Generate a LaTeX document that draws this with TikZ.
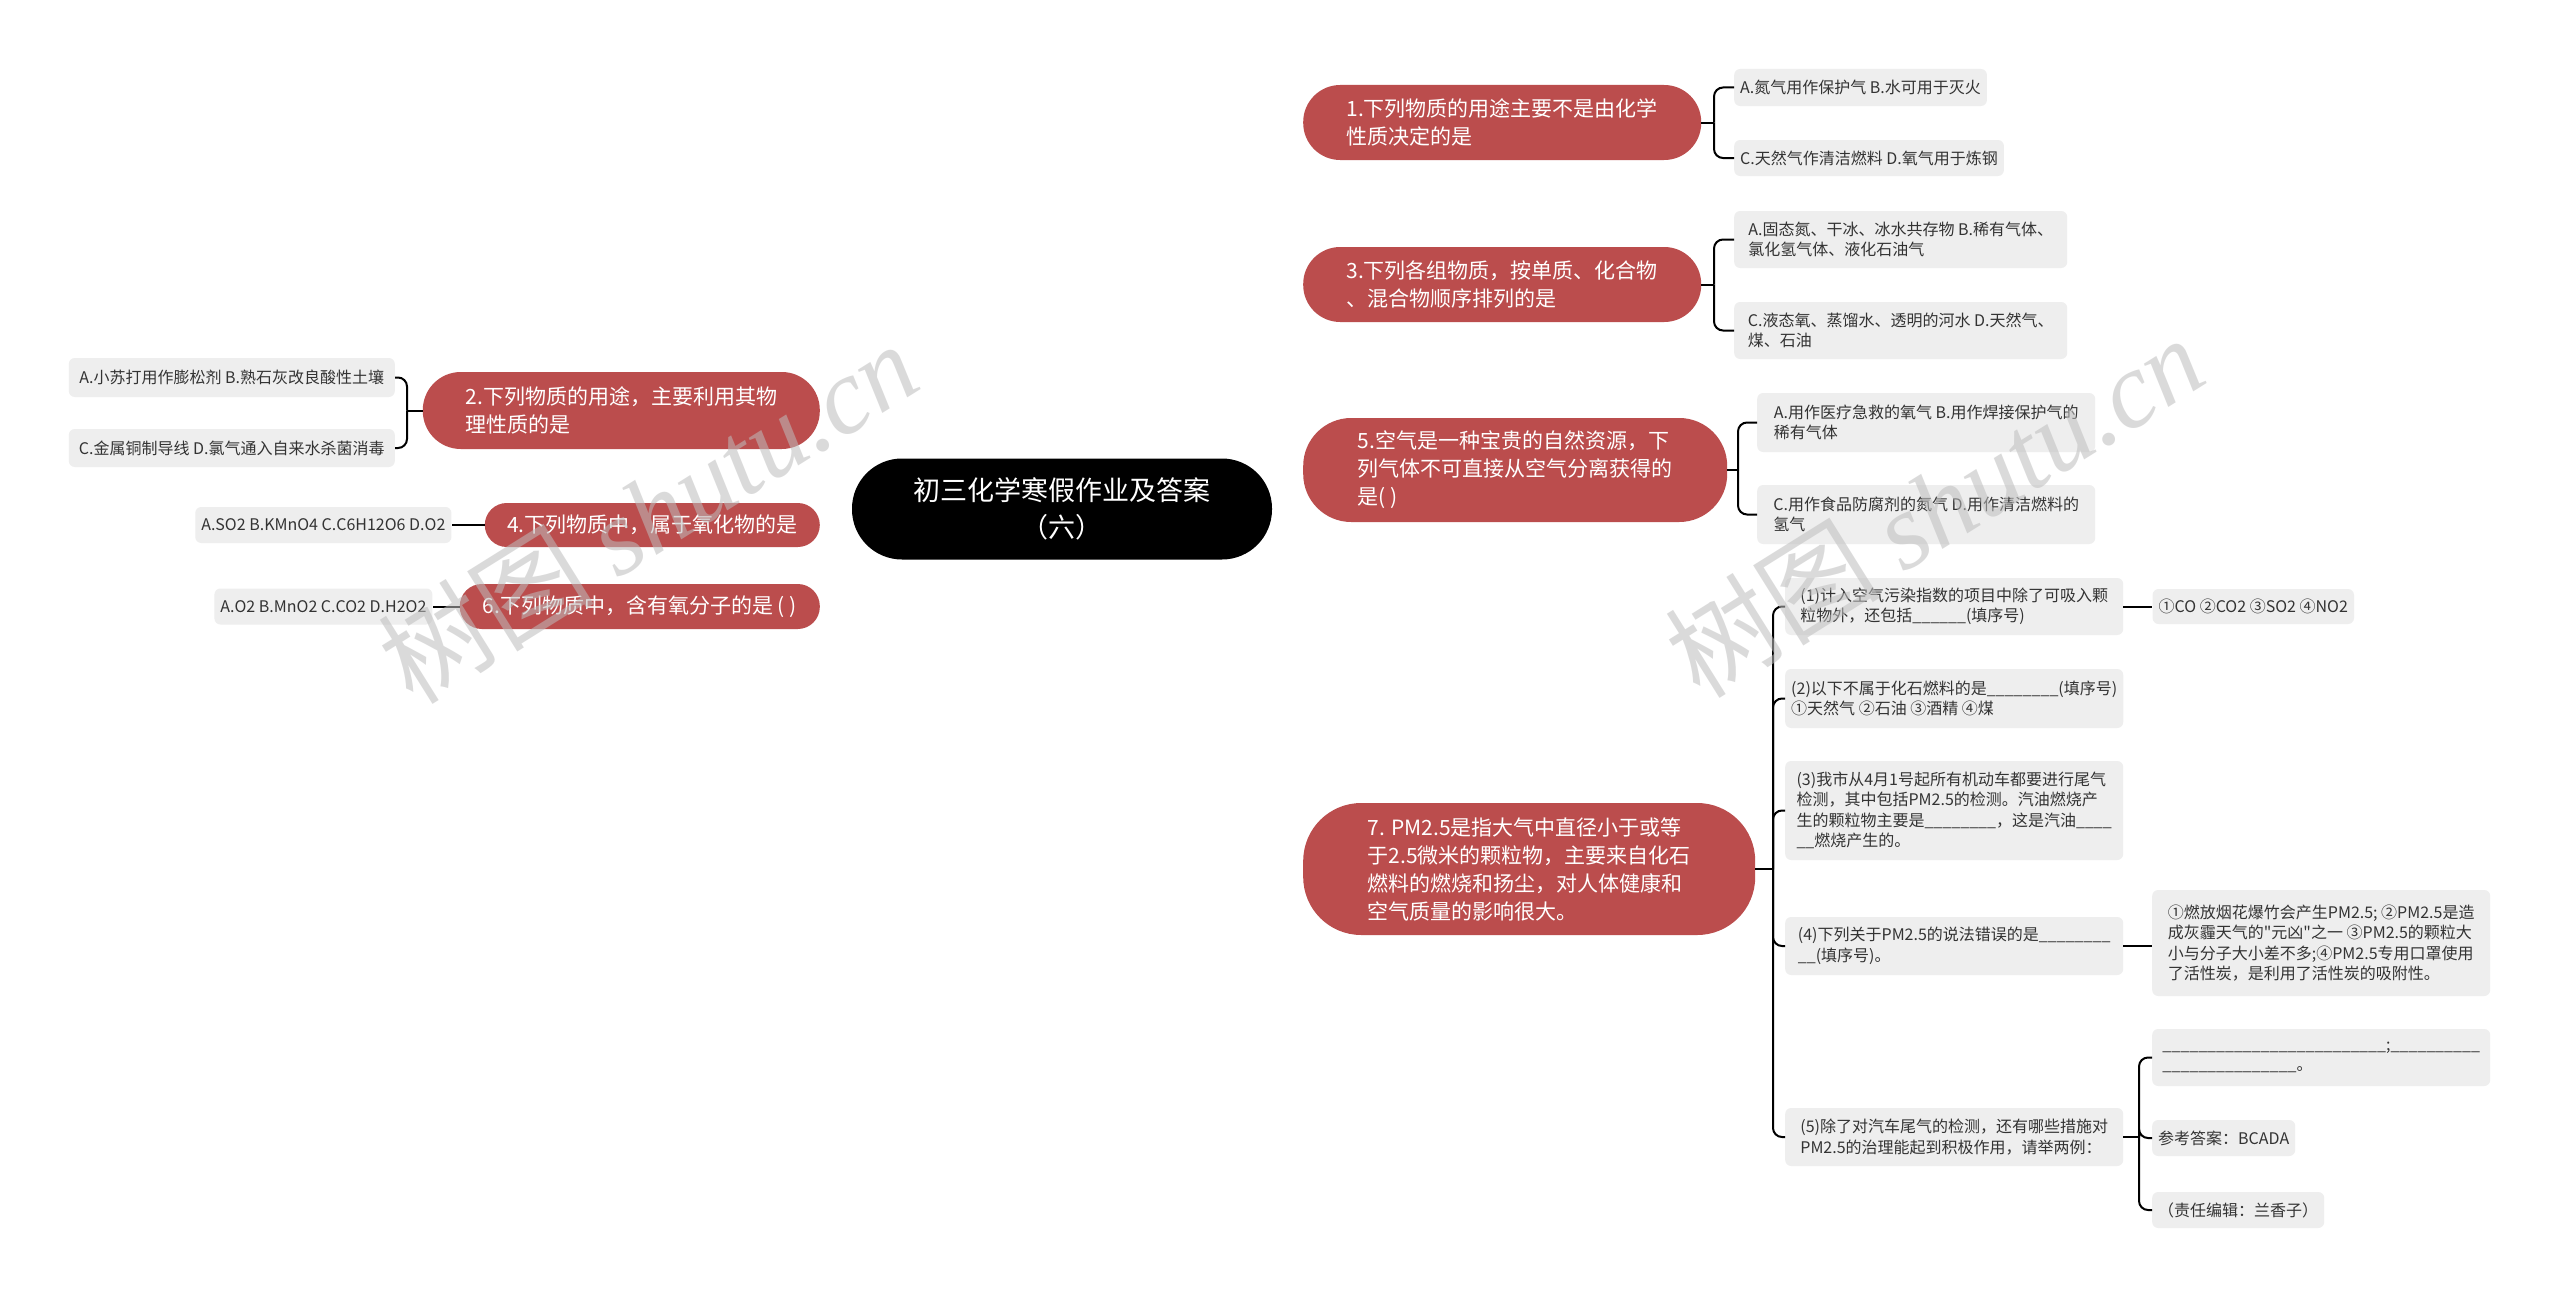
\documentclass[tikz,border=0pt]{standalone}
\usepackage{fontspec}
\setmainfont{Noto Sans CJK SC}
\newfontfamily\wmfont{Liberation Serif}
\usepackage{xcolor}
\usetikzlibrary{positioning,backgrounds}

\definecolor{qred}{HTML}{BB4D4D}
\definecolor{leafgray}{HTML}{EEEEEE}
\definecolor{leaftext}{HTML}{333333}
\definecolor{wmgray}{HTML}{BDBDBD}

\begin{document}
\begin{tikzpicture}[
  x=1pt, y=-1pt,
  rootnode/.style={fill=black, text=white, rounded corners=50pt, minimum width=420pt,
    minimum height=101pt, align=center, inner sep=0pt, font=\fontsize{27}{37}\selectfont},
  topic/.style={fill=qred, text=white, align=left, inner sep=0pt,
    font=\fontsize{21}{28}\selectfont},
  leaf/.style={fill=leafgray, text=leaftext, align=left, rounded corners=6pt,
    inner xsep=6pt, inner ysep=0pt, font=\fontsize{16}{20.5}\selectfont},
  conn/.style={draw=black, line width=2pt},
  brace/.style={conn, rounded corners=9pt},
  wmark/.style={text=wmgray, text opacity=0.55, font=\fontsize{108}{108}\selectfont},
]
\useasboundingbox (0,0) rectangle (2560,1298);
\fill[white] (0,0) rectangle (2560,1298);

% ===== root =====
\node[rootnode] (root) at (1062,509) {初三化学寒假作业及答案\\（六）};

% ===== right topics =====
\node[topic, anchor=west, minimum width=398pt, minimum height=75pt, rounded corners=37pt]
  (q1) at (1303,122.5) {1.下列物质的用途主要不是由化学\\性质决定的是};
\node[topic, anchor=west, minimum width=398pt, minimum height=75pt, rounded corners=37pt]
  (q3) at (1303,284.5) {3.下列各组物质，按单质、化合物\\、混合物顺序排列的是};
\node[topic, anchor=west, minimum width=424pt, minimum height=104pt, rounded corners=48pt]
  (q5) at (1303,470) {5.空气是一种宝贵的自然资源，下\\列气体不可直接从空气分离获得的\\是( )};
\node[topic, anchor=west, minimum width=452pt, minimum height=132pt, rounded corners=58pt]
  (q7) at (1303,869) {7. PM2.5是指大气中直径小于或等\\于2.5微米的颗粒物，主要来自化石\\燃料的燃烧和扬尘，对人体健康和\\空气质量的影响很大。};

% ===== left topics =====
\node[topic, anchor=east, minimum width=397pt, minimum height=77pt, rounded corners=38pt]
  (q2) at (820,410.5) {2.下列物质的用途，主要利用其物\\理性质的是};
\node[topic, anchor=east, minimum width=335pt, minimum height=44pt, rounded corners=22pt]
  (q4) at (820,525) {4.下列物质中，属于氧化物的是};
\node[topic, anchor=east, minimum width=360pt, minimum height=45pt, rounded corners=22pt]
  (q6) at (820,606.5) {6.下列物质中，含有氧分子的是 ( )};

% ===== leaves of 1, 3, 5 =====
\node[leaf, anchor=west, minimum height=37pt] (a1) at (1734,87.5) {A.氮气用作保护气 B.水可用于灭火};
\node[leaf, anchor=west, minimum height=36pt] (b1) at (1734,158) {C.天然气作清洁燃料 D.氧气用于炼钢};
\node[leaf, anchor=west, minimum width=333pt, minimum height=57pt] (a3) at (1734,239.5)
  {A.固态氮、干冰、冰水共存物 B.稀有气体、\\氯化氢气体、液化石油气};
\node[leaf, anchor=west, minimum width=333pt, minimum height=57pt] (b3) at (1734,330.5)
  {C.液态氧、蒸馏水、透明的河水 D.天然气、\\煤、石油};
\node[leaf, anchor=west, minimum width=338pt, minimum height=59pt] (a5) at (1757,422.5)
  {A.用作医疗急救的氧气 B.用作焊接保护气的\\稀有气体};
\node[leaf, anchor=west, minimum width=338pt, minimum height=59pt] (b5) at (1757,514.5)
  {C.用作食品防腐剂的氮气 D.用作清洁燃料的\\氢气};

% ===== sub-questions of 7 =====
\node[leaf, anchor=west, minimum width=338pt, minimum height=57pt] (s1) at (1785,606.5)
  {(1)计入空气污染指数的项目中除了可吸入颗\\粒物外，还包括\_\_\_\_\_\_(填序号)};
\node[leaf, right=29pt of s1, minimum height=35pt] (s1c) {①CO ②CO2 ③SO2 ④NO2};
\node[leaf, anchor=west, minimum width=338pt, minimum height=59pt] (s2) at (1785,698.5)
  {(2)以下不属于化石燃料的是\_\_\_\_\_\_\_\_(填序号)\\①天然气 ②石油 ③酒精 ④煤};
\node[leaf, anchor=west, minimum width=338pt, minimum height=99pt] (s3) at (1785,810.5)
  {(3)我市从4月1号起所有机动车都要进行尾气\\检测，其中包括PM2.5的检测。汽油燃烧产\\生的颗粒物主要是\_\_\_\_\_\_\_\_，这是汽油\_\_\_\_\\\_\_燃烧产生的。};
\node[leaf, anchor=west, minimum width=338pt, minimum height=58pt] (s4) at (1785,946)
  {(4)下列关于PM2.5的说法错误的是\_\_\_\_\_\_\_\_\\\_\_(填序号)。};
\node[leaf, anchor=west, minimum width=338pt, minimum height=106pt] (s4c) at (2152,943)
  {①燃放烟花爆竹会产生PM2.5; ②PM2.5是造\\成灰霾天气的\textquotedbl 元凶\textquotedbl 之一 ③PM2.5的颗粒大\\小与分子大小差不多;④PM2.5专用口罩使用\\了活性炭，是利用了活性炭的吸附性。};
\node[leaf, anchor=west, minimum width=338pt, minimum height=58pt] (s5) at (1785,1137)
  {(5)除了对汽车尾气的检测，还有哪些措施对\\PM2.5的治理能起到积极作用，请举两例：};
\node[leaf, anchor=west, minimum width=338pt, minimum height=57pt] (c1) at (2152,1057.5)
  {\_\_\_\_\_\_\_\_\_\_\_\_\_\_\_\_\_\_\_\_\_\_\_\_\_;\_\_\_\_\_\_\_\_\_\_\\\_\_\_\_\_\_\_\_\_\_\_\_\_\_\_。};
\node[leaf, anchor=west, minimum height=36pt] (c2) at (2152,1138) {参考答案：BCADA};
\node[leaf, anchor=west, minimum height=36pt] (c3) at (2152,1210) {（责任编辑：兰香子）};

% ===== leaves of 2, 4, 6 =====
\node[leaf, anchor=east, minimum width=326pt, minimum height=39pt] (a2) at (395,377.5)
  {A.小苏打用作膨松剂 B.熟石灰改良酸性土壤};
\node[leaf, anchor=east, minimum width=326pt, minimum height=38pt] (b2) at (395,448)
  {C.金属铜制导线 D.氯气通入自来水杀菌消毒};
\node[leaf, left=33pt of q4, minimum height=36pt] (l4) {A.SO2 B.KMnO4 C.C6H12O6 D.O2};
\node[leaf, left=27pt of q6, minimum height=36pt] (l6) {A.O2 B.MnO2 C.CO2 D.H2O2};

% ===== brace junctions =====
\coordinate (j1) at (1714,122.5);
\coordinate (j3) at (1714,284.5);
\coordinate (j5) at (1738,470);
\coordinate (j7) at (1773,869);
\coordinate (j55) at (2139,1137);
\coordinate (j2) at (407,410.5);

% ===== connectors =====
\begin{scope}[on background layer]
\draw[conn] (root.center) to[out=90,in=180] (q1.west);
\draw[conn] (root.center) to[out=85,in=180] (q3.west);
\draw[conn] (root.center) to[out=0,in=180] (q5.west);
\draw[conn] (root.center) to[out=-90,in=180] (q7.west);
\draw[conn] (root.center) to[out=115,in=0] (q2.east);
\draw[conn] (root.center) to[out=180,in=0] (q4.east);
\draw[conn] (root.center) to[out=-115,in=0] (q6.east);
\end{scope}

\draw[conn] (q1.east) -- (j1);
\draw[brace] (j1) |- (a1.west);
\draw[brace] (j1) |- (b1.west);
\draw[conn] (q3.east) -- (j3);
\draw[brace] (j3) |- (a3.west);
\draw[brace] (j3) |- (b3.west);
\draw[conn] (q5.east) -- (j5);
\draw[brace] (j5) |- (a5.west);
\draw[brace] (j5) |- (b5.west);
\draw[conn] (q7.east) -- (j7);
\draw[brace] (j7) |- (s1.west);
\draw[brace] (j7) |- (s2.west);
\draw[brace] (j7) |- (s3.west);
\draw[brace] (j7) |- (s4.west);
\draw[brace] (j7) |- (s5.west);
\draw[conn] (s1.east) -- (s1c.west);
\draw[conn] (s4.east) -- (s4.east -| s4c.west);
\draw[conn] (s5.east) -- (j55);
\draw[brace] (j55) |- (c1.west);
\draw[brace] (j55) |- (c2.west);
\draw[brace] (j55) |- (c3.west);
\draw[conn] (q2.west) -- (j2);
\draw[brace] (j2) |- (a2.east);
\draw[brace] (j2) |- (b2.east);
\draw[conn] (q4.west) -- (l4.east);
\draw[conn] (q6.west) -- (l6.east);

% ===== watermarks =====
\node[wmark, rotate=32] (wm1) at (648,512) {树图 {\wmfont\itshape shutu.cn}};
\node[wmark, rotate=32] (wm2) at (1934,506) {树图 {\wmfont\itshape shutu.cn}};

\end{tikzpicture}
\end{document}
